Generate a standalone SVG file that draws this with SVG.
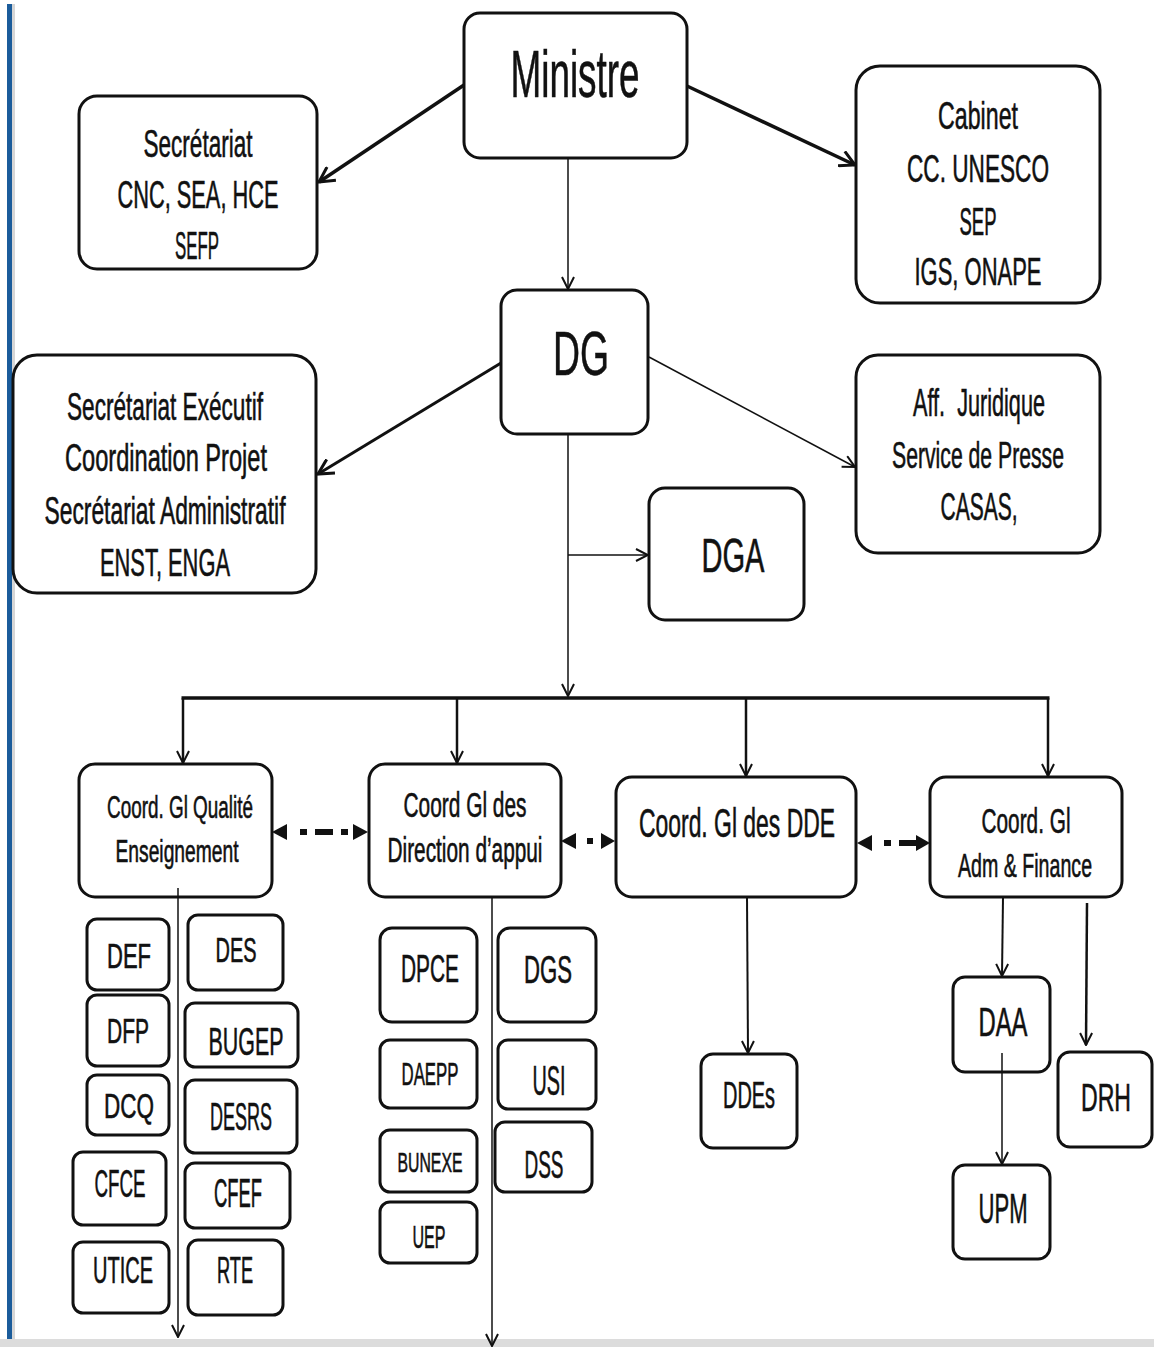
<svg xmlns="http://www.w3.org/2000/svg" width="1154" height="1347" viewBox="0 0 1154 1347">
<defs>
<style>
.box{fill:#fff;stroke:#111;stroke-width:3}
.t{font-family:"Liberation Sans",Arial,sans-serif;fill:#111;stroke:#111;stroke-width:0.6;text-anchor:middle}
.c{fill:none;stroke:#111}
.dh{fill:#111;stroke:none}
</style>
<marker id="ah" viewBox="0 0 14 14" refX="13" refY="7" markerWidth="14" markerHeight="14" markerUnits="userSpaceOnUse" orient="auto">
<path d="M1,1 L13,7 L1,13" fill="none" stroke="#111" stroke-width="2"/>
</marker>
<marker id="ahb" viewBox="0 0 18 18" refX="16" refY="9" markerWidth="18" markerHeight="18" markerUnits="userSpaceOnUse" orient="auto">
<path d="M1,1 L16,9 L1,17" fill="none" stroke="#111" stroke-width="3"/>
</marker>
</defs>
<rect width="1154" height="1347" fill="#fff"/>
<rect x="7" y="4" width="5" height="1336" fill="#1b5c9b"/>
<rect x="12" y="4" width="3" height="1336" fill="#d6d6d6"/>
<rect x="0" y="1339" width="1154" height="8" fill="#dcdcdc"/>

<g id="ministre"><rect class="box" x="464" y="13" width="223" height="145" rx="16"/>
<text class="t" x="575" y="97" font-size="66" textLength="129" lengthAdjust="spacingAndGlyphs">Ministre</text></g>

<g id="secretariat"><rect class="box" x="79" y="96" width="238" height="173" rx="18"/>
<text class="t" x="198" y="157" font-size="39" textLength="109" lengthAdjust="spacingAndGlyphs">Secrétariat</text>
<text class="t" x="198" y="208" font-size="39" textLength="161" lengthAdjust="spacingAndGlyphs">CNC, SEA, HCE</text>
<text class="t" x="197" y="259" font-size="39" textLength="44" lengthAdjust="spacingAndGlyphs">SEFP</text></g>

<g id="cabinet"><rect class="box" x="856" y="66" width="244" height="237" rx="24"/>
<text class="t" x="978" y="129" font-size="39" textLength="80" lengthAdjust="spacingAndGlyphs">Cabinet</text>
<text class="t" x="978" y="182" font-size="39" textLength="142" lengthAdjust="spacingAndGlyphs">CC. UNESCO</text>
<text class="t" x="978" y="235" font-size="39" textLength="37" lengthAdjust="spacingAndGlyphs">SEP</text>
<text class="t" x="978" y="285" font-size="39" textLength="127" lengthAdjust="spacingAndGlyphs">IGS, ONAPE</text></g>

<g id="dg"><rect class="box" x="501" y="290" width="147" height="144" rx="16"/>
<text class="t" x="581" y="375" font-size="63" textLength="56" lengthAdjust="spacingAndGlyphs">DG</text></g>

<g id="secexec"><rect class="box" x="13" y="355" width="303" height="238" rx="24"/>
<text class="t" x="165" y="420" font-size="38" textLength="196" lengthAdjust="spacingAndGlyphs">Secrétariat Exécutif</text>
<text class="t" x="166" y="471" font-size="38" textLength="202" lengthAdjust="spacingAndGlyphs">Coordination Projet</text>
<text class="t" x="165" y="524" font-size="38" textLength="241" lengthAdjust="spacingAndGlyphs">Secrétariat Administratif</text>
<text class="t" x="165" y="576" font-size="38" textLength="130" lengthAdjust="spacingAndGlyphs">ENST, ENGA</text></g>

<g id="aff"><rect class="box" x="856" y="355" width="244" height="198" rx="22"/>
<text class="t" x="979" y="416" font-size="38" textLength="132" lengthAdjust="spacingAndGlyphs">Aff.&#160; Juridique</text>
<text class="t" transform="translate(978,468) scale(0.573,1)" x="0" y="0" font-size="37">Service de Presse</text>
<text class="t" x="979" y="520" font-size="38" textLength="77" lengthAdjust="spacingAndGlyphs">CASAS,</text></g>

<g id="dga"><rect class="box" x="649" y="488" width="155" height="132" rx="16"/>
<text class="t" x="733" y="572" font-size="49" textLength="63" lengthAdjust="spacingAndGlyphs">DGA</text></g>

<g id="qualite"><rect class="box" x="79" y="764" width="193" height="133" rx="16"/>
<text class="t" x="180" y="818" font-size="31" textLength="146" lengthAdjust="spacingAndGlyphs">Coord. Gl Qualité</text>
<text class="t" x="177" y="862" font-size="31" textLength="123" lengthAdjust="spacingAndGlyphs">Enseignement</text></g>

<g id="appui"><rect class="box" x="369" y="764" width="192" height="133" rx="16"/>
<text class="t" x="465" y="817" font-size="35" textLength="123" lengthAdjust="spacingAndGlyphs">Coord Gl des</text>
<text class="t" x="465" y="862" font-size="35" textLength="155" lengthAdjust="spacingAndGlyphs">Direction d’appui</text></g>

<g id="dde"><rect class="box" x="616" y="777" width="240" height="120" rx="16"/>
<text class="t" x="737" y="837" font-size="40" textLength="196" lengthAdjust="spacingAndGlyphs">Coord. Gl des DDE</text></g>

<g id="admfin"><rect class="box" x="930" y="777" width="192" height="120" rx="16"/>
<text class="t" x="1026" y="833" font-size="35" textLength="89" lengthAdjust="spacingAndGlyphs">Coord. Gl</text>
<text class="t" transform="translate(1025,877) scale(0.577,1)" x="0" y="0" font-size="34">Adm &amp; Finance</text></g>

<g id="def"><rect class="box" x="87" y="919" width="82" height="71" rx="10"/><text class="t" x="129" y="968" font-size="35" textLength="44" lengthAdjust="spacingAndGlyphs">DEF</text></g>
<g id="dfp"><rect class="box" x="87" y="995" width="82" height="71" rx="10"/><text class="t" x="128" y="1043" font-size="35" textLength="42" lengthAdjust="spacingAndGlyphs">DFP</text></g>
<g id="dcq"><rect class="box" x="87" y="1075" width="82" height="60" rx="10"/><text class="t" x="129" y="1118" font-size="35" textLength="50" lengthAdjust="spacingAndGlyphs">DCQ</text></g>
<g id="cfce"><rect class="box" x="73" y="1152" width="93" height="73" rx="10"/><text class="t" x="120" y="1197" font-size="38" textLength="51" lengthAdjust="spacingAndGlyphs">CFCE</text></g>
<g id="utice"><rect class="box" x="73" y="1242" width="96" height="71" rx="10"/><text class="t" x="123" y="1283" font-size="36" textLength="60" lengthAdjust="spacingAndGlyphs">UTICE</text></g>
<g id="des"><rect class="box" x="188" y="915" width="95" height="75" rx="10"/><text class="t" x="236" y="962" font-size="35" textLength="41" lengthAdjust="spacingAndGlyphs">DES</text></g>
<g id="bugep"><rect class="box" x="185" y="1003" width="113" height="64" rx="10"/><text class="t" x="246" y="1055" font-size="39" textLength="75" lengthAdjust="spacingAndGlyphs">BUGEP</text></g>
<g id="desrs"><rect class="box" x="185" y="1080" width="112" height="73" rx="10"/><text class="t" x="241" y="1130" font-size="38" textLength="62" lengthAdjust="spacingAndGlyphs">DESRS</text></g>
<g id="cfef"><rect class="box" x="185" y="1163" width="105" height="65" rx="10"/><text class="t" x="238" y="1207" font-size="40" textLength="48" lengthAdjust="spacingAndGlyphs">CFEF</text></g>
<g id="rte"><rect class="box" x="188" y="1240" width="95" height="75" rx="10"/><text class="t" x="235" y="1283" font-size="36" textLength="36" lengthAdjust="spacingAndGlyphs">RTE</text></g>

<g id="dpce"><rect class="box" x="380" y="928" width="97" height="94" rx="12"/><text class="t" x="430" y="982" font-size="38" textLength="58" lengthAdjust="spacingAndGlyphs">DPCE</text></g>
<g id="daepp"><rect class="box" x="380" y="1040" width="97" height="68" rx="10"/><text class="t" x="430" y="1085" font-size="31" textLength="57" lengthAdjust="spacingAndGlyphs">DAEPP</text></g>
<g id="bunexe"><rect class="box" x="380" y="1130" width="97" height="62" rx="10"/><text class="t" x="430" y="1172" font-size="28" textLength="65" lengthAdjust="spacingAndGlyphs">BUNEXE</text></g>
<g id="uep"><rect class="box" x="380" y="1202" width="97" height="61" rx="10"/><text class="t" x="429" y="1248" font-size="32" textLength="33" lengthAdjust="spacingAndGlyphs">UEP</text></g>
<g id="dgs"><rect class="box" x="498" y="928" width="98" height="94" rx="12"/><text class="t" x="548" y="983" font-size="39" textLength="48" lengthAdjust="spacingAndGlyphs">DGS</text></g>
<g id="usi"><rect class="box" x="498" y="1040" width="98" height="69" rx="10"/><text class="t" x="549" y="1095" font-size="42" textLength="33" lengthAdjust="spacingAndGlyphs">USI</text></g>
<g id="dss"><rect class="box" x="495" y="1122" width="97" height="70" rx="10"/><text class="t" x="544" y="1178" font-size="39" textLength="39" lengthAdjust="spacingAndGlyphs">DSS</text></g>

<g id="ddes"><rect class="box" x="701" y="1054" width="96" height="94" rx="12"/><text class="t" x="749" y="1108" font-size="36" textLength="52" lengthAdjust="spacingAndGlyphs">DDEs</text></g>
<g id="daa"><rect class="box" x="953" y="977" width="97" height="95" rx="12"/><text class="t" x="1003" y="1036" font-size="40" textLength="49" lengthAdjust="spacingAndGlyphs">DAA</text></g>
<g id="drh"><rect class="box" x="1058" y="1052" width="94" height="95" rx="12"/><text class="t" transform="translate(1106,1111) scale(0.592,1)" x="0" y="0" font-size="39">DRH</text></g>
<g id="upm"><rect class="box" x="953" y="1165" width="97" height="94" rx="12"/><text class="t" x="1003" y="1223" font-size="42" textLength="49" lengthAdjust="spacingAndGlyphs">UPM</text></g>

<g id="connectors">
<path class="c" d="M464,85 L319,182" stroke-width="3.5" marker-end="url(#ahb)"/>
<path class="c" d="M687,86 L855,165" stroke-width="3.5" marker-end="url(#ahb)"/>
<path class="c" d="M568,158 L568,289" stroke-width="1.5" marker-end="url(#ah)"/>
<path class="c" d="M501,363 L318,474" stroke-width="3" marker-end="url(#ahb)"/>
<path class="c" d="M649,357 L855,467" stroke-width="1.5" stroke="#333" marker-end="url(#ah)"/>
<path class="c" d="M568,434 L568,696" stroke-width="1.5" marker-end="url(#ah)"/>
<path class="c" d="M568,555 L648,555" stroke-width="1.5" marker-end="url(#ah)"/>
<path class="c" d="M181.5,698 L1049.5,698" stroke-width="3.5"/>
<path class="c" d="M183,698 L183,763" stroke-width="2.5" marker-end="url(#ah)"/>
<path class="c" d="M457,698 L457,763" stroke-width="2.5" marker-end="url(#ah)"/>
<path class="c" d="M746,698 L746,776" stroke-width="2.5" marker-end="url(#ah)"/>
<path class="c" d="M1048,698 L1048,776" stroke-width="2.5" marker-end="url(#ah)"/>
<path class="c" d="M178,888 L178,1337" stroke-width="1.5" marker-end="url(#ah)"/>
<path class="c" d="M492,897 L492,1346" stroke-width="1.5" marker-end="url(#ah)"/>
<path class="c" d="M747,897 L748,1053" stroke-width="2" marker-end="url(#ah)"/>
<path class="c" d="M1003,897 L1002,976" stroke-width="2" marker-end="url(#ah)"/>
<path class="c" d="M1087,903 L1086,1045" stroke-width="2.5" marker-end="url(#ah)"/>
<path class="c" d="M1002,1053 L1002,1164" stroke-width="1.5" marker-end="url(#ah)"/>
<g id="dash1">
<polygon class="dh" points="272,832 287,824 287,840"/>
<rect class="dh" x="300" y="829" width="7" height="6"/>
<rect class="dh" x="315" y="829" width="18" height="6"/>
<rect class="dh" x="341" y="829" width="7" height="6"/>
<polygon class="dh" points="368,832 353,824 353,840"/>
</g>
<g id="dash2">
<polygon class="dh" points="561,841 576,833 576,849"/>
<rect class="dh" x="587" y="838" width="6" height="6"/>
<polygon class="dh" points="615,841 601,833 601,849"/>
</g>
<g id="dash3">
<polygon class="dh" points="857,843 872,835 872,851"/>
<rect class="dh" x="884" y="840" width="7" height="6"/>
<rect class="dh" x="899" y="840" width="18" height="6"/>
<polygon class="dh" points="930,843 916,835 916,851"/>
</g>
</g>
</svg>
